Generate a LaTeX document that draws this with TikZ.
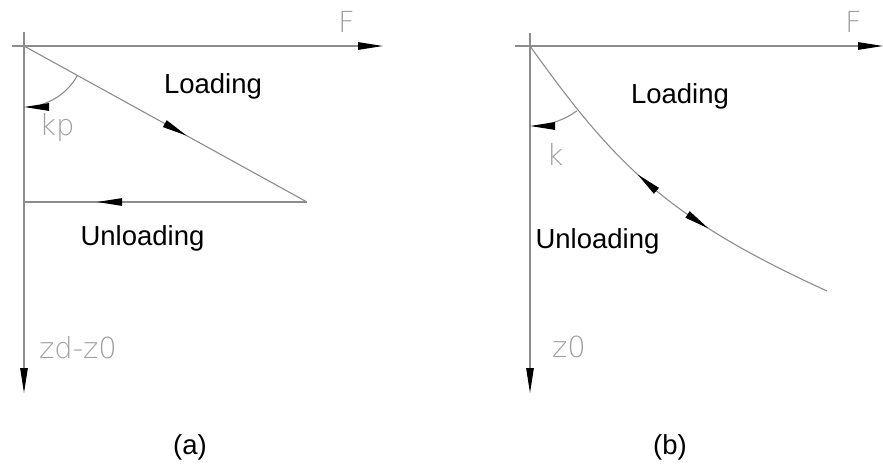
\documentclass[tikz,border=0pt]{standalone}
\usepackage{fontspec}
\setmainfont{Liberation Sans}
\newfontfamily\cadfont{DejaVu Sans ExtraLight}
\usetikzlibrary{arrows.meta}
\definecolor{axisgray}{RGB}{140,140,140}
\definecolor{labelgray}{RGB}{160,160,160}
\tikzset{
  axisline/.style={draw=axisgray, line width=1.1pt},
  tipline/.style={axisline, -{Triangle[length=25pt,width=7.5pt,color=black,fill=black]}},
  caption/.style={font=\fontsize{27.5}{30}\selectfont, text=black, inner sep=0pt, anchor=base},
  cadlabel/.style={font=\cadfont\fontsize{29}{31}\selectfont, text=labelgray, inner sep=0pt, anchor=base},
}
\begin{document}
\begin{tikzpicture}[x=1pt,y=-1pt]
\useasboundingbox (0,0) rectangle (883,463);
% ---------------- (a) ----------------
\coordinate (Oa) at (24,46);
\coordinate (Fa0) at (12,46);
\coordinate (Fa1) at (383,46);
\coordinate (Za0) at (24,32);
\coordinate (Za1) at (24,393);
\coordinate (Pa) at (307,202);
\coordinate (Qa) at (24,202);
\draw[tipline] (Fa0) -- (Fa1);
\draw[tipline] (Za0) -- (Za1);
\draw[axisline] (Oa) -- (Pa) coordinate[pos=0.498] (la1) coordinate[pos=0.575] (la2);
\draw[axisline] (Pa) -- (Qa) coordinate[pos=0.650] (ua1) coordinate[pos=0.742] (ua2);
\draw[tipline] (la1) -- (la2);
\draw[tipline] (ua1) -- (ua2);
% angle arc kp
\draw[axisline] (Oa) ++(28.9:61) arc[start angle=28.9, end angle=66, radius=61] coordinate (arcAt);
\draw[tipline] (arcAt) arc[start angle=66, end angle=90, radius=61];
\node[cadlabel] (Flab) at (346.5,32) {F};
\node[cadlabel] (kp) at (57,135) {kp};
\node[cadlabel] (zdz) at (78,358) {zd-z0};
\node[caption] (loada) at (213,93) {Loading};
\node[caption] (unla) at (142.5,245) {Unloading};
\node[caption] (capa) at (190,454) {(a)};
% ---------------- (b) ----------------
\coordinate (Ob) at (530,46);
\coordinate (Fb0) at (515,46);
\coordinate (Fb1) at (883,46);
\coordinate (Zb0) at (530,33);
\coordinate (Zb1) at (530,393);
\coordinate (Eb) at (827,291);
\draw[tipline] (Fb0) -- (Fb1);
\draw[tipline] (Zb0) -- (Zb1);
\draw[axisline] (Ob) .. controls (615,165) and (667,218) .. (Eb)
  coordinate[pos=0.45] (cb1) coordinate[pos=0.523] (cb2)
  coordinate[pos=0.632] (cb3) coordinate[pos=0.70] (cb4);
\draw[tipline] (cb2) -- (cb1);
\draw[tipline] (cb3) -- (cb4);
\draw[axisline] (Ob) ++(54.1:80) arc[start angle=54.1, end angle=72, radius=80] coordinate (arcBt);
\draw[tipline] (arcBt) arc[start angle=72, end angle=90, radius=80];
\node[cadlabel] (Flb) at (853.5,32) {F};
\node[cadlabel] (klab) at (555,165) {k};
\node[cadlabel] (z0) at (569,357) {z0};
\node[caption] (loadb) at (680,103) {Loading};
\node[caption] (unlb) at (597.5,248) {Unloading};
\node[caption] (capb) at (670,454) {(b)};
\end{tikzpicture}
\end{document}
